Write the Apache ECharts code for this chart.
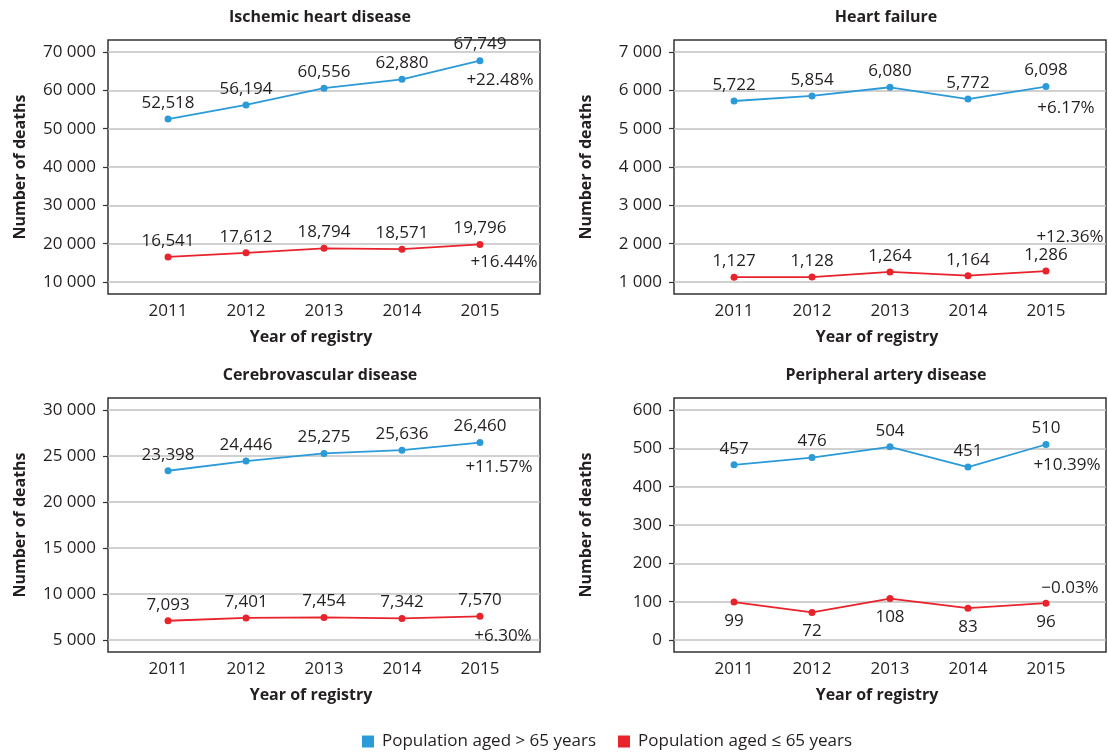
<!DOCTYPE html>
<html>
<head>
<meta charset="utf-8">
<script src="https://cdn.jsdelivr.net/npm/echarts@6/dist/echarts.min.js"></script>
<style>
  html, body { margin: 0; padding: 0; background: #ffffff; }
  #chart { width: 1108px; height: 756px; }
</style>
</head>
<body>
<div id="chart"></div>
<script>
// Registry years and legend entries
const years = [2011, 2012, 2013, 2014, 2015];
const seriesNames = ['Population aged > 65 years', 'Population aged \u2264 65 years'];

// Ischemic heart disease
const ihdOver65 = [52518, 56194, 60556, 62880, 67749];
const ihdUpTo65 = [16541, 17612, 18794, 18571, 19796];
const ihdChange = ['+22.48%', '+16.44%'];
const ihdTicks = [10000, 20000, 30000, 40000, 50000, 60000, 70000];

// Heart failure
const hfOver65 = [5722, 5854, 6080, 5772, 6098];
const hfUpTo65 = [1127, 1128, 1264, 1164, 1286];
const hfChange = ['+6.17%', '+12.36%'];
const hfTicks = [1000, 2000, 3000, 4000, 5000, 6000, 7000];

// Cerebrovascular disease
const cvdOver65 = [23398, 24446, 25275, 25636, 26460];
const cvdUpTo65 = [7093, 7401, 7454, 7342, 7570];
const cvdChange = ['+11.57%', '+6.30%'];
const cvdTicks = [5000, 10000, 15000, 20000, 25000, 30000];

// Peripheral artery disease
const padOver65 = [457, 476, 504, 451, 510];
const padUpTo65 = [99, 72, 108, 83, 96];
const padChange = ['+10.39%', '\u22120.03%'];
const padTicks = [0, 100, 200, 300, 400, 500, 600];

const FONT = 'Open Sans';
const TEXT = '#231f20';
const BLUE = '#2b9ad8';
const RED = '#e8232b';
const BOX_W = 432;
const BOX_H = 254;

// Layout of the four panels
const panels = [
  { title: 'Ischemic heart disease', over: ihdOver65, under: ihdUpTo65, change: ihdChange, ticks: ihdTicks,
    left: 108, top: 40, underPos: 'top', changeOffsets: [[20, 20], [24, 18]] },
  { title: 'Heart failure', over: hfOver65, under: hfUpTo65, change: hfChange, ticks: hfTicks,
    left: 674, top: 40, underPos: 'top', changeOffsets: [[20, 22], [24, -34]] },
  { title: 'Cerebrovascular disease', over: cvdOver65, under: cvdUpTo65, change: cvdChange, ticks: cvdTicks,
    left: 108, top: 398, underPos: 'top', changeOffsets: [[19, 25], [23, 20]] },
  { title: 'Peripheral artery disease', over: padOver65, under: padUpTo65, change: padChange, ticks: padTicks,
    left: 674, top: 398, underPos: 'bottom', changeOffsets: [[21, 21], [24, -15]] }
];

const spaced = v => String(v).replace(/\B(?=(\d{3})+(?!\d))/g, ' ');
const commas = v => Number(v).toLocaleString('en-US');

const grid = [], xAxis = [], yAxis = [], series = [], title = [];

panels.forEach((p, i) => {
  const t0 = p.ticks[0], t1 = p.ticks[p.ticks.length - 1];
  const pad = (t1 - t0) * 12 / 230;

  grid.push({
    left: p.left, top: p.top, width: BOX_W, height: BOX_H,
    show: true, borderColor: '#333333', borderWidth: 1.5, backgroundColor: 'transparent'
  });

  title.push({
    text: p.title, left: p.left + BOX_W / 2 - 4, top: p.top - 31, textAlign: 'center', padding: 0,
    textStyle: { fontFamily: FONT, fontSize: 16, fontWeight: 'bold', color: TEXT }
  });

  xAxis.push({
    gridIndex: i, type: 'value', min: years[0] - 0.77, max: years[years.length - 1] + 0.77,
    axisLine: { show: false }, axisTick: { show: false }, splitLine: { show: false },
    axisLabel: { customValues: years, formatter: v => String(v), margin: 9,
                 fontFamily: FONT, fontSize: 17, color: TEXT },
    name: 'Year of registry', nameLocation: 'middle', nameGap: 35,
    nameTextStyle: { fontFamily: FONT, fontSize: 16, fontWeight: 'bold', color: TEXT, padding: [0, 26, 0, 0] }
  });

  yAxis.push({
    gridIndex: i, type: 'value', min: t0 - pad, max: t1 + pad,
    axisLine: { show: false },
    axisTick: { show: true, length: 5, customValues: p.ticks, lineStyle: { color: '#333333', width: 1.2 } },
    axisLabel: { customValues: p.ticks, formatter: spaced, margin: 12,
                 fontFamily: FONT, fontSize: 17, color: TEXT },
    splitLine: { show: true, lineStyle: { color: '#c2c2c2', width: 1.5 } },
    name: 'Number of deaths', nameLocation: 'middle', nameGap: 80,
    nameTextStyle: { fontFamily: FONT, fontSize: 16, fontWeight: 'bold', color: TEXT }
  });

  const lineSeries = (name, values, color, pos) => ({
    name, type: 'line', xAxisIndex: i, yAxisIndex: i,
    data: years.map((y, j) => [y, values[j]]),
    symbol: 'circle', symbolSize: 7,
    lineStyle: { color, width: 1.8 }, itemStyle: { color },
    label: { show: true, position: pos, distance: pos === 'top' ? 4 : 7,
             formatter: d => commas(d.value[1]),
             fontFamily: FONT, fontSize: 17, color: TEXT },
    emphasis: { disabled: true }, animation: false
  });
  series.push(lineSeries(seriesNames[0], p.over, BLUE, 'top'));
  series.push(lineSeries(seriesNames[1], p.under, RED, p.underPos));

  // Change between first and last year, written beside the 2015 point
  [p.over, p.under].forEach((values, k) => {
    const last = years.length - 1;
    series.push({
      type: 'scatter', xAxisIndex: i, yAxisIndex: i, symbolSize: 0, silent: true,
      data: [[years[last], values[last]]],
      itemStyle: { opacity: 1 },
      label: { show: true, position: 'inside', offset: p.changeOffsets[k],
               formatter: () => p.change[k],
               fontFamily: FONT, fontSize: 17, color: TEXT, opacity: 1 },
      animation: false
    });
  });
});

const chart = echarts.init(document.getElementById('chart'), null, { renderer: 'canvas' });
chart.setOption({
  backgroundColor: '#ffffff',
  animation: false,
  title, grid, xAxis, yAxis, series,
  legend: {
    data: seriesNames, left: 362, top: 733, padding: 0, icon: 'rect',
    itemWidth: 12, itemHeight: 12, itemGap: 22,
    textStyle: { fontFamily: FONT, fontSize: 17, color: TEXT, padding: [0, 0, 0, 3] },
    selectedMode: false
  }
});
</script>
</body>
</html>
